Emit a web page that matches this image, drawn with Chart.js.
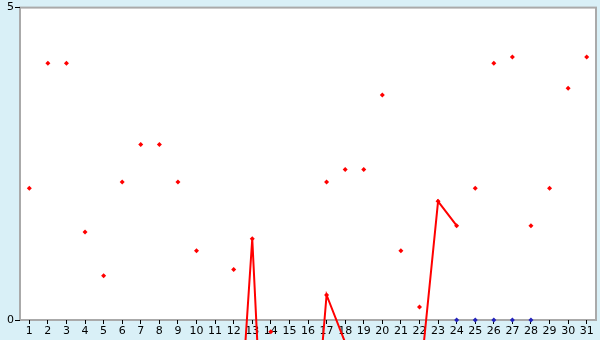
<!DOCTYPE html>
<html>
<head>
<meta charset="utf-8">
<script src="https://cdn.jsdelivr.net/npm/chart.js@4/dist/chart.umd.min.js"></script>
<style>
  html, body { margin: 0; padding: 0; background: #d9f0f7; }
  #wrap { width: 600px; height: 340px; }
</style>
</head>
<body>
<div id="wrap"><canvas id="dailyChart"></canvas></div>
<script>
const days = ["1","2","3","4","5","6","7","8","9","10","11","12","13","14","15","16","17","18","19","20","21","22","23","24","25","26","27","28","29","30","31"];

// scattered daily readings (red markers)
const readings = [2.11, 4.11, 4.11, 1.41, 0.71, 2.21, 2.81, 2.81, 2.21, 1.11, null, 0.81, null, -0.19, null, null, 2.21, 2.41, 2.41, 3.60, 1.11, 0.21, null, null, 2.11, 4.11, 4.21, 1.51, 2.11, 3.71, 4.21];

// connected series (red line), mostly below zero
const trend = [null, null, null, null, null, null, null, null, null, null, null, -3.19, 1.30, -4.78, null, -3.17, 0.40, -0.36, null, null, null, -1.06, 1.90, 1.51, null, null, null, null, null, null, null];

// zero markers (blue)
const zeros = [null, null, null, null, null, null, null, null, null, null, null, null, null, null, null, null, null, null, null, null, null, null, null, 0, 0, 0, 0, 0, null, null, null];

const yTicks = [0, 5];

const plotFrame = {
  id: "plotFrame",
  beforeDraw(chart) {
    const { ctx, chartArea: a } = chart;
    ctx.save();
    ctx.fillStyle = "#d9f0f7";
    ctx.fillRect(0, 0, chart.width, chart.height);
    ctx.fillStyle = "#ffffff";
    ctx.fillRect(a.left, a.top, a.right - a.left, a.bottom - a.top);
    ctx.strokeStyle = "#aaaaaa";
    ctx.lineWidth = 2;
    ctx.strokeRect(a.left, a.top, a.right - a.left, a.bottom - a.top);
    ctx.restore();
  },
  // markers that fall outside the plot area are skipped by chart.js, draw them anyway
  afterDatasetsDraw(chart) {
    const full = { left: 0, top: 0, right: chart.width, bottom: chart.height };
    chart.getDatasetMeta(1).data.forEach(pt => {
      if (!pt.skip && pt.y > chart.chartArea.bottom + 2) pt.draw(chart.ctx, full);
    });
  }
};

Chart.defaults.font.family = "DejaVu Sans";
Chart.defaults.font.size = 11;
Chart.defaults.color = "#000";

new Chart("dailyChart", {
  type: "line",
  data: {
    labels: days,
    datasets: [
      {
        data: trend,
        borderColor: "#ff0000",
        backgroundColor: "#ff0000",
        borderWidth: 2,
        pointStyle: "rectRot",
        pointRadius: 2.5,
        pointBorderWidth: 0,
        spanGaps: false,
        clip: false
      },
      {
        data: readings,
        showLine: false,
        borderColor: "#ff0000",
        backgroundColor: "#ff0000",
        pointStyle: "rectRot",
        pointRadius: 2.5,
        pointBorderWidth: 0,
        clip: false
      },
      {
        data: zeros,
        showLine: false,
        borderColor: "#2222bb",
        backgroundColor: "#2222bb",
        pointStyle: "rectRot",
        pointRadius: 2.5,
        pointBorderWidth: 0,
        clip: false
      }
    ]
  },
  options: {
    responsive: true,
    maintainAspectRatio: false,
    animation: false,
    layout: { padding: { top: 5, right: 4, left: 0, bottom: 0 } },
    plugins: { legend: { display: false }, tooltip: { enabled: false } },
    scales: {
      x: {
        offset: true,
        grid: { display: true, drawOnChartArea: false, tickLength: 4, color: "#000", offset: false },
        border: { display: false },
        ticks: { padding: 1, maxRotation: 0, autoSkip: false },
        afterFit: (s) => { s.height = 20; }
      },
      y: {
        min: 0,
        max: 5,
        afterBuildTicks: (s) => { s.ticks = yTicks.map(v => ({ value: v })); },
        grid: { display: true, drawOnChartArea: false, tickLength: 5, color: "#000" },
        border: { display: false },
        ticks: { padding: 1 },
        afterFit: (s) => { s.width = 20; }
      }
    }
  },
  plugins: [plotFrame]
});
</script>
</body>
</html>
